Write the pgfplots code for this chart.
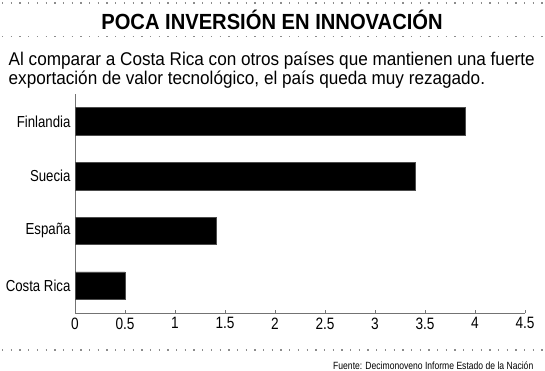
\documentclass[border=0pt]{standalone}
\usepackage{pgfplots}
\pgfplotsset{compat=1.18}
\usepackage{fontspec}
\setmainfont[FakeStretch=0.83]{Liberation Sans}
\newfontfamily\titlefont[FakeStretch=0.92]{Liberation Sans}
\newfontfamily\subfont[FakeStretch=0.93]{Liberation Sans}
\newfontfamily\srcfont[FakeStretch=0.82]{Liberation Sans}
\begin{document}
\begin{tikzpicture}
\path[use as bounding box] (0bp,0bp) rectangle (545bp,-371bp);
\tikzset{dots/.style={draw=black!45, line width=1.3bp, dash pattern=on 1.3bp off 7.4bp}}
\draw[dots] (2bp,-3bp) -- (545bp,-3bp);
\draw[dots] (2bp,-36.5bp) -- (545bp,-36.5bp);
\draw[dots] (2bp,-350bp) -- (545bp,-350bp);
\node[anchor=base, inner sep=0] at (272bp,-29.5bp) {\titlefont\bfseries\fontsize{22}{22}\selectfont POCA INVERSIÓN EN INNOVACIÓN};
\node[anchor=base west, inner sep=0] at (8.5bp,-65bp) {\subfont\fontsize{18.5}{19}\selectfont Al comparar a Costa Rica con otros países que mantienen una fuerte};
\node[anchor=base west, inner sep=0] at (8.5bp,-84bp) {\subfont\fontsize{18.5}{19}\selectfont exportación de valor tecnológico, el país queda muy rezagado.};
\node[anchor=base east, inner sep=0] at (533.5bp,-369bp) {\srcfont\fontsize{10.5}{11}\selectfont Fuente: Decimonoveno Informe Estado de la Nación};
\begin{axis}[
  at={(75bp,-313bp)}, anchor=south west,
  scale only axis, width=450bp, height=219bp,
  xbar, bar width=27.5bp,
  xmin=0, xmax=4.5, ymin=-0.5, ymax=3.5,
  xtick={0,0.5,...,4.5},
  xticklabels={0,0.5,1,1.5,2,2.5,3,3.5,4,4.5},
  ytick={0,1,2,3},
  yticklabels={Costa Rica,España,Suecia,Finlandia},
  minor ytick={0.5,1.5,2.5,3.5},
  axis lines*=left,
  axis line style={draw=black!55, line width=0.8bp},
  every tick/.style={draw=black!55, line width=0.8bp},
  tick align=inside,
  major tick length=3.5bp,
  minor tick length=3.5bp,
  ytick style={draw=none},
  every minor tick/.append style={draw=black!55, xshift=-3bp},
  /pgf/number format/assume math mode=true,
  tick label style={font=\fontsize{16}{16}\selectfont},
  xticklabel style={yshift=-1bp, font=\fontsize{16.5}{16.5}\selectfont},
  yticklabel style={xshift=-1bp},
  clip=false,
]
\addplot[fill=black, draw=black!70] coordinates {(0.5,0) (1.41,1) (3.4,2) (3.9,3)};
\end{axis}
\end{tikzpicture}
\end{document}
